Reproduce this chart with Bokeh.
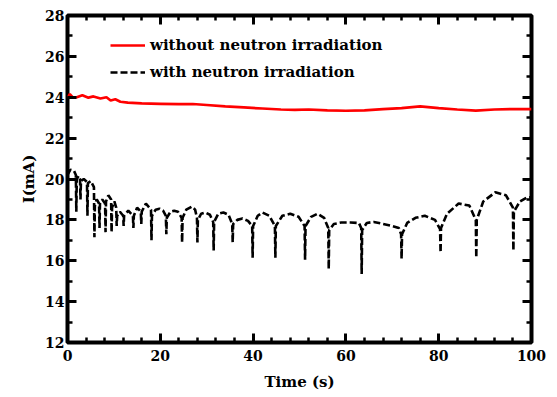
from bokeh.plotting import figure
from bokeh.models import Range1d, LinearAxis, Legend, LegendItem, FixedTicker
from bokeh.embed import file_html
from bokeh.resources import INLINE

# ---- data ----
time_without = [0.0, 0.5, 1.2, 2.0, 3.2, 4.5, 5.6, 7.1, 8.4, 9.3, 10.3, 11.4, 13.0, 16.0,
                20.0, 24.0, 27.0, 30.0, 34.0, 38.0, 42.0, 46.0, 49.0, 52.0, 56.0, 60.0,
                64.0, 68.0, 72.0, 76.0, 80.0, 84.0, 88.0, 92.0, 96.0, 100.0]
current_without = [24.0, 24.15, 23.98, 24.0, 24.1, 23.98, 24.04, 23.94, 24.0, 23.84, 23.9,
                   23.78, 23.74, 23.7, 23.68, 23.66, 23.67, 23.62, 23.55, 23.5, 23.45, 23.4,
                   23.38, 23.4, 23.36, 23.34, 23.36, 23.42, 23.47, 23.55, 23.47, 23.4, 23.35,
                   23.4, 23.42, 23.42]

time_with = [0.0, 0.6, 1.4, 1.8, 1.9, 2.0, 2.4, 2.7, 2.8, 2.9, 3.5, 4.2, 4.3, 4.4, 5.0, 5.7,
             5.8, 5.9, 6.3, 6.8, 6.9, 7.0, 7.5, 8.1, 8.2, 8.3, 8.8, 9.4, 9.5, 9.6, 10.1, 10.5,
             10.6, 10.7, 11.3, 12.0, 12.1, 12.2, 13.1, 14.1, 14.2, 14.3, 15.0, 15.8, 15.9,
             16.0, 16.9, 18.0, 18.1, 18.2, 19.0, 19.8, 20.6, 21.2, 21.3, 21.4, 22.2, 23.0,
             23.8, 24.6, 24.7, 24.8, 25.6, 26.8, 27.5, 27.9, 28.0, 28.1, 28.8, 29.7, 30.7,
             31.4, 31.5, 31.6, 32.5, 33.6, 34.7, 35.5, 35.6, 35.7, 36.6, 37.7, 38.9, 39.8,
             39.9, 40.0, 41.0, 42.0, 43.5, 44.7, 44.8, 44.9, 46.3, 48.0, 49.8, 51.1, 51.2,
             51.3, 52.5, 53.9, 55.3, 56.2, 56.3, 56.4, 57.4, 59.0, 61.0, 62.8, 63.3, 63.4,
             63.5, 64.5, 66.0, 68.0, 70.0, 71.4, 71.9, 72.0, 72.1, 73.2, 75.0, 77.0, 79.2,
             80.3, 80.4, 80.5, 81.8, 84.3, 86.6, 88.0, 88.1, 88.2, 89.6, 92.2, 94.5, 96.0,
             96.1, 96.2, 97.5, 99.0, 100.0]
current_with = [20.2, 20.45, 20.4, 20.2, 18.4, 20.0, 20.15, 20.0, 19.0, 19.9, 20.0, 19.85,
                18.2, 19.8, 19.9, 19.6, 17.15, 18.7, 19.0, 18.8, 17.6, 18.8, 19.0, 18.8, 17.4,
                18.9, 19.2, 19.0, 17.4, 18.6, 18.9, 18.6, 17.7, 18.2, 18.4, 18.2, 17.7, 18.2,
                18.45, 18.2, 17.6, 18.2, 18.6, 18.4, 17.8, 18.4, 18.8, 18.5, 17.0, 18.2, 18.5,
                18.55, 18.45, 18.2, 17.3, 18.1, 18.4, 18.45, 18.4, 18.1, 16.9, 18.1, 18.5,
                18.65, 18.5, 18.1, 16.9, 18.0, 18.3, 18.36, 18.25, 17.9, 16.5, 17.9, 18.3,
                18.36, 18.25, 17.8, 16.9, 17.8, 18.0, 18.07, 17.95, 17.7, 16.15, 17.7, 18.2,
                18.36, 18.2, 17.7, 16.15, 17.7, 18.2, 18.3, 18.15, 17.7, 16.05, 17.7, 18.15,
                18.3, 18.1, 17.6, 15.6, 17.5, 17.8, 17.87, 17.87, 17.85, 17.6, 15.35, 17.5,
                17.85, 17.9, 17.8, 17.7, 17.6, 17.3, 16.1, 17.3, 17.85, 18.1, 18.2, 18.0, 17.55,
                16.4, 17.6, 18.3, 18.8, 18.7, 18.0, 16.15, 18.0, 18.9, 19.35, 19.2, 18.6, 16.5,
                18.4, 18.9, 19.1, 19.1]

x_ticks = [0, 20, 40, 60, 80, 100]
y_ticks = [12, 14, 16, 18, 20, 22, 24, 26, 28]
x_minor = list(range(0, 101, 4))
y_minor = list(range(12, 29))
label_without = "without neutron irradiation"
label_with = "with neutron irradiation"

FONT = "DejaVu Serif"

p = figure(width=557, height=397, output_backend="svg", toolbar_location=None,
           x_range=Range1d(0, 100), y_range=Range1d(12, 28),
           min_border_left=67, min_border_right=26, min_border_top=15, min_border_bottom=55)
p.background_fill_color = "white"
p.border_fill_color = "white"
p.grid.visible = False
p.outline_line_color = "black"
p.outline_line_width = 4

r_without = p.line(time_without, current_without, line_color="red", line_width=2.7)
r_with = p.line(time_with, current_with, line_color="black", line_width=2.6, line_dash="7 3")


def style_axis(ax, show_labels):
    ax.axis_line_color = None
    ax.major_tick_in = 9
    ax.major_tick_out = 0
    ax.minor_tick_in = 5
    ax.minor_tick_out = 0
    ax.major_tick_line_width = 3
    ax.minor_tick_line_width = 2.5
    ax.major_tick_line_color = "black"
    ax.minor_tick_line_color = "black"
    ax.major_label_text_font = FONT
    ax.major_label_text_font_style = "bold"
    ax.major_label_text_font_size = "14px"
    ax.major_label_text_color = "black" if show_labels else None


p.xaxis.ticker = FixedTicker(ticks=x_ticks, minor_ticks=x_minor)
p.yaxis.ticker = FixedTicker(ticks=y_ticks, minor_ticks=y_minor)
style_axis(p.xaxis[0], True)
style_axis(p.yaxis[0], True)
p.xaxis.major_label_standoff = 7
p.yaxis.major_label_standoff = 3
p.xaxis.axis_label = "Time (s)"
p.yaxis.axis_label = "I(mA)"
for ax in (p.xaxis[0], p.yaxis[0]):
    ax.axis_label_text_font = FONT
    ax.axis_label_text_font_style = "bold"
    ax.axis_label_text_font_size = "15px"
    ax.axis_label_text_color = "black"
p.xaxis.axis_label_standoff = 9
p.yaxis.axis_label_standoff = 4

top_axis = LinearAxis(ticker=FixedTicker(ticks=x_ticks, minor_ticks=x_minor))
style_axis(top_axis, False)
top_axis.major_label_text_font_size = "0px"
p.add_layout(top_axis, "above")
right_axis = LinearAxis(ticker=FixedTicker(ticks=y_ticks, minor_ticks=y_minor))
style_axis(right_axis, False)
right_axis.major_label_text_font_size = "0px"
p.add_layout(right_axis, "right")

legend = Legend(items=[LegendItem(label=label_without, renderers=[r_without]),
                       LegendItem(label=label_with, renderers=[r_with])],
                location=(43, 260))
legend.padding = 0
legend.margin = 0
legend.spacing = 7
legend.glyph_width = 35
legend.glyph_height = 20
legend.label_height = 20
legend.label_standoff = 5
legend.border_line_color = None
legend.background_fill_alpha = 0
legend.label_text_font = FONT
legend.label_text_font_style = "bold"
legend.label_text_font_size = "15px"
legend.label_text_color = "black"
p.add_layout(legend, "center")

open("out.html", "w").write(file_html(p, INLINE))
